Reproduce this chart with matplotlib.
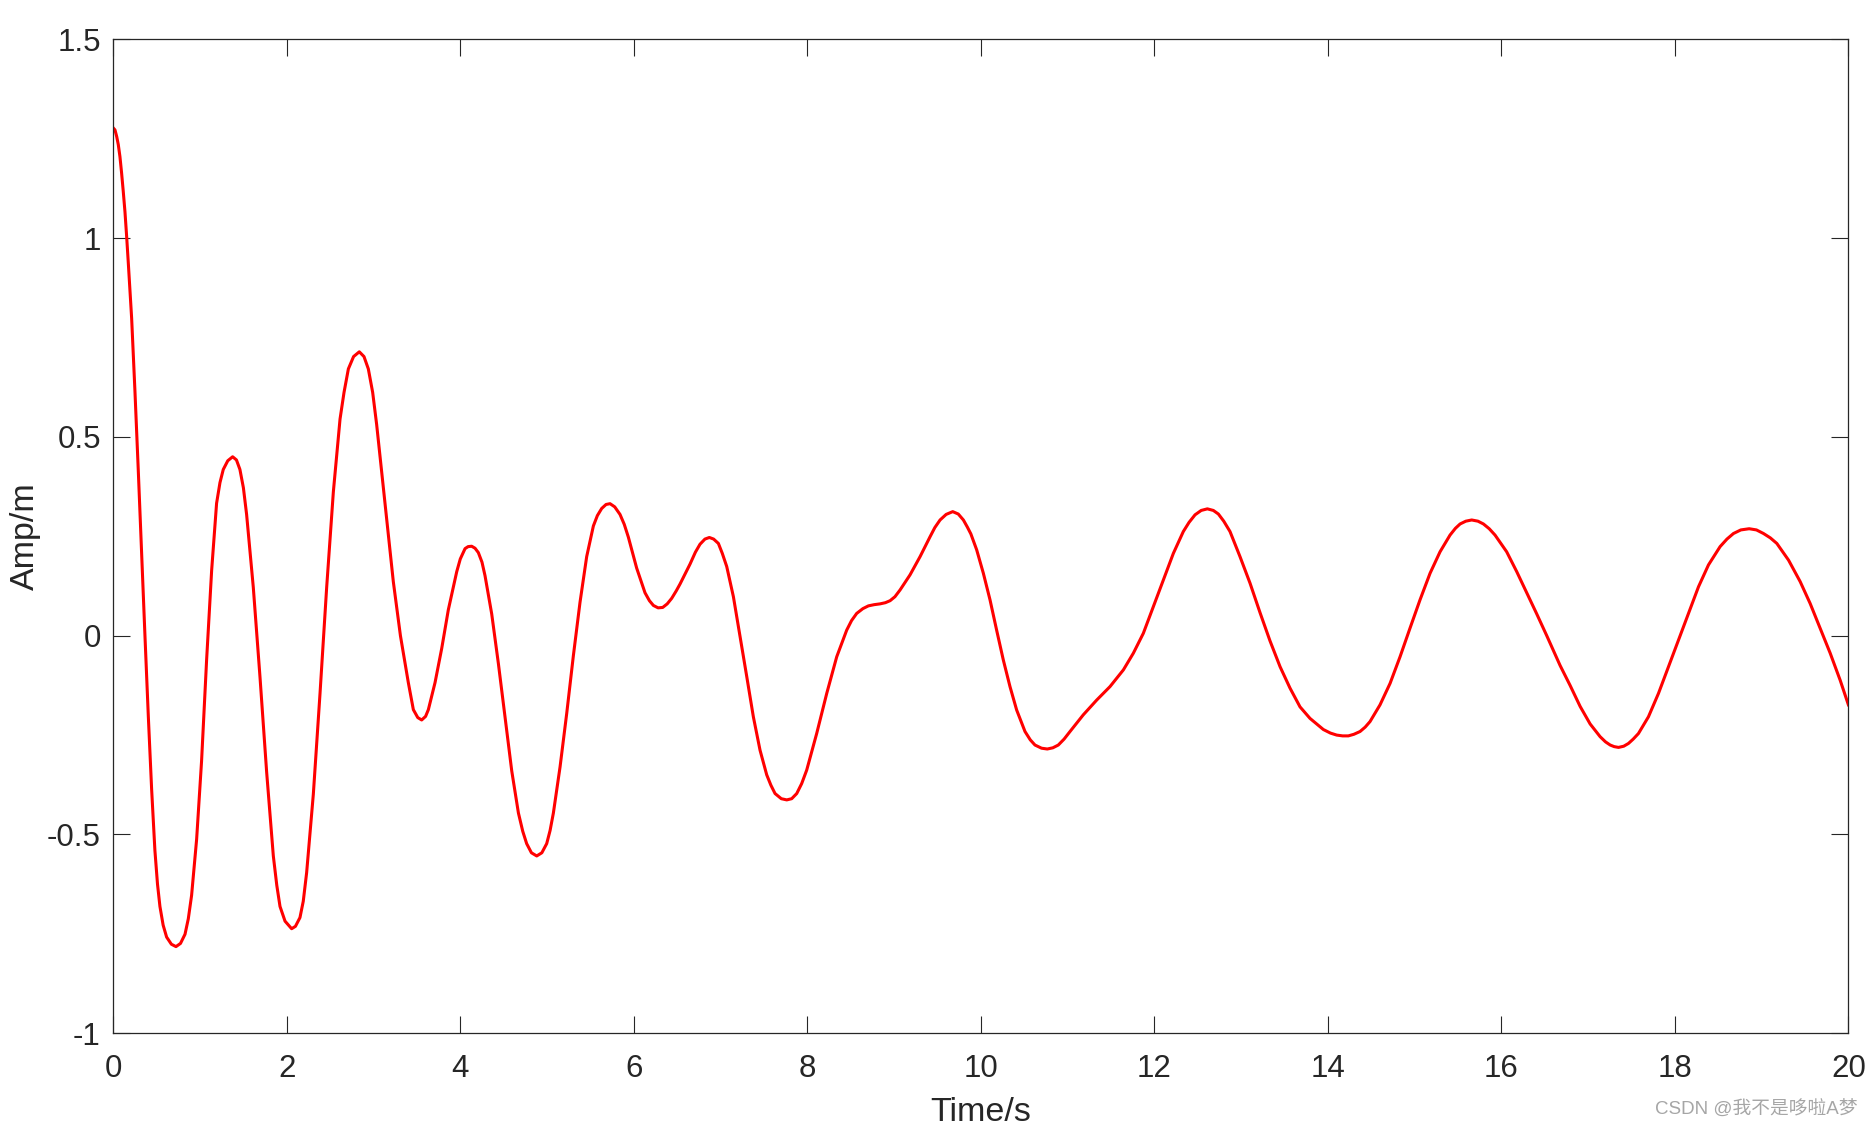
import matplotlib
matplotlib.use("Agg")
import matplotlib.pyplot as plt

# time (s) and amplitude (m)
time_s = [
    0.0, 0.02, 0.04, 0.058, 0.077, 0.096, 0.115, 0.135, 0.154, 0.173,
    0.212, 0.250, 0.288, 0.327, 0.365, 0.404, 0.442, 0.480, 0.510, 0.538,
    0.575, 0.615, 0.670, 0.723, 0.775, 0.827, 0.865, 0.903, 0.961, 1.018,
    1.076, 1.134, 1.191, 1.230, 1.268, 1.320, 1.376, 1.420, 1.460, 1.500,
    1.537, 1.614, 1.691, 1.768, 1.845, 1.885, 1.922, 1.980, 2.056, 2.100,
    2.152, 2.190, 2.229, 2.306, 2.383, 2.460, 2.537, 2.614, 2.660, 2.710,
    2.770, 2.836, 2.890, 2.940, 2.990, 3.036, 3.132, 3.228, 3.310, 3.401,
    3.459, 3.510, 3.555, 3.600, 3.632, 3.709, 3.786, 3.862, 3.959, 4.000,
    4.055, 4.090, 4.131, 4.170, 4.208, 4.250, 4.285, 4.362, 4.439, 4.516,
    4.593, 4.670, 4.720, 4.765, 4.820, 4.881, 4.940, 4.996, 5.035, 5.073,
    5.150, 5.227, 5.303, 5.380, 5.457, 5.534, 5.580, 5.630, 5.680, 5.726,
    5.780, 5.841, 5.890, 5.937, 6.033, 6.129, 6.180, 6.226, 6.280, 6.333,
    6.385, 6.437, 6.490, 6.533, 6.590, 6.648, 6.710, 6.763, 6.820, 6.871,
    6.920, 6.975, 7.020, 7.071, 7.148, 7.225, 7.302, 7.378, 7.455, 7.532,
    7.580, 7.628, 7.700, 7.763, 7.820, 7.878, 7.935, 7.993, 8.108, 8.224,
    8.339, 8.454, 8.510, 8.569, 8.640, 8.704, 8.770, 8.838, 8.900, 8.954,
    9.010, 9.069, 9.184, 9.300, 9.415, 9.470, 9.530, 9.600, 9.676, 9.740,
    9.799, 9.845, 9.885, 9.952, 10.029, 10.106, 10.182, 10.259, 10.336, 10.413,
    10.509, 10.570, 10.624, 10.700, 10.766, 10.830, 10.893, 10.960, 11.028, 11.181,
    11.335, 11.489, 11.643, 11.758, 11.873, 11.988, 12.104, 12.219, 12.334, 12.400,
    12.469, 12.540, 12.611, 12.680, 12.738, 12.800, 12.872, 12.987, 13.103, 13.218,
    13.333, 13.449, 13.564, 13.679, 13.794, 13.948, 14.030, 14.102, 14.170, 14.236,
    14.300, 14.371, 14.430, 14.486, 14.601, 14.717, 14.832, 14.947, 15.062, 15.178,
    15.293, 15.408, 15.470, 15.524, 15.590, 15.658, 15.730, 15.793, 15.860, 15.927,
    16.061, 16.177, 16.292, 16.407, 16.523, 16.677, 16.792, 16.908, 17.023, 17.138,
    17.200, 17.254, 17.300, 17.350, 17.410, 17.465, 17.520, 17.580, 17.695, 17.811,
    17.926, 18.041, 18.156, 18.272, 18.387, 18.521, 18.600, 18.675, 18.760, 18.856,
    18.940, 19.021, 19.100, 19.175, 19.310, 19.444, 19.559, 19.674, 19.790, 19.905,
    20.0,
]
amp_m = [
    1.277, 1.272, 1.255, 1.235, 1.205, 1.164, 1.118, 1.066, 1.005, 0.939,
    0.798, 0.615, 0.418, 0.207, 0.002, -0.202, -0.385, -0.540, -0.625, -0.681,
    -0.728, -0.758, -0.776, -0.782, -0.774, -0.751, -0.712, -0.653, -0.512, -0.315,
    -0.061, 0.164, 0.333, 0.385, 0.418, 0.440, 0.450, 0.442, 0.418, 0.372,
    0.305, 0.122, -0.103, -0.343, -0.554, -0.628, -0.681, -0.718, -0.737, -0.731,
    -0.709, -0.668, -0.596, -0.399, -0.146, 0.122, 0.362, 0.545, 0.612, 0.671,
    0.702, 0.714, 0.702, 0.671, 0.612, 0.531, 0.333, 0.136, 0.000, -0.118,
    -0.186, -0.206, -0.212, -0.203, -0.186, -0.118, -0.032, 0.065, 0.161, 0.193,
    0.219, 0.224, 0.225, 0.220, 0.209, 0.185, 0.151, 0.055, -0.070, -0.205,
    -0.340, -0.446, -0.492, -0.523, -0.546, -0.554, -0.546, -0.523, -0.490, -0.446,
    -0.330, -0.195, -0.051, 0.084, 0.199, 0.276, 0.302, 0.320, 0.330, 0.332,
    0.324, 0.305, 0.280, 0.248, 0.170, 0.108, 0.088, 0.076, 0.070, 0.071,
    0.080, 0.094, 0.113, 0.130, 0.155, 0.180, 0.210, 0.230, 0.243, 0.247,
    0.243, 0.232, 0.207, 0.174, 0.098, -0.002, -0.103, -0.204, -0.288, -0.350,
    -0.376, -0.397, -0.410, -0.413, -0.410, -0.397, -0.372, -0.338, -0.246, -0.145,
    -0.053, 0.014, 0.038, 0.056, 0.068, 0.075, 0.078, 0.080, 0.083, 0.088,
    0.098, 0.115, 0.153, 0.199, 0.249, 0.272, 0.291, 0.305, 0.312, 0.306,
    0.291, 0.273, 0.256, 0.216, 0.157, 0.090, 0.014, -0.061, -0.128, -0.187,
    -0.241, -0.262, -0.275, -0.283, -0.285, -0.282, -0.275, -0.260, -0.241, -0.199,
    -0.162, -0.128, -0.086, -0.044, 0.006, 0.073, 0.140, 0.207, 0.262, 0.285,
    0.304, 0.315, 0.319, 0.315, 0.306, 0.288, 0.262, 0.199, 0.132, 0.058,
    -0.013, -0.078, -0.132, -0.179, -0.208, -0.236, -0.245, -0.250, -0.252, -0.252,
    -0.248, -0.241, -0.230, -0.216, -0.174, -0.120, -0.053, 0.019, 0.090, 0.157,
    0.211, 0.253, 0.270, 0.281, 0.288, 0.291, 0.288, 0.281, 0.269, 0.253,
    0.211, 0.161, 0.108, 0.055, 0.000, -0.075, -0.125, -0.178, -0.222, -0.254,
    -0.267, -0.275, -0.279, -0.281, -0.278, -0.271, -0.260, -0.246, -0.204, -0.145,
    -0.078, -0.011, 0.056, 0.123, 0.178, 0.224, 0.243, 0.257, 0.266, 0.269,
    0.266, 0.257, 0.246, 0.232, 0.190, 0.136, 0.081, 0.019, -0.044, -0.112,
    -0.174,
]

x_ticks = [0, 2, 4, 6, 8, 10, 12, 14, 16, 18, 20]
x_tick_labels = ["0", "2", "4", "6", "8", "10", "12", "14", "16", "18", "20"]
y_ticks = [-1, -0.5, 0, 0.5, 1, 1.5]
y_tick_labels = ["-1", "-0.5", "0", "0.5", "1", "1.5"]

plt.rcParams['font.family'] = ['Liberation Sans', 'Noto Sans CJK SC', 'DejaVu Sans']

fig = plt.figure(figsize=(18.72, 11.32), dpi=100)
ax = fig.add_axes([0.0605, 0.0872, 0.9269, 0.8781])

ax.plot(time_s, amp_m, color='#ff0000', linewidth=2.2)

ax.set_xlim(0, 20)
ax.set_ylim(-1, 1.5)
ax.set_xticks(x_ticks)
ax.set_xticklabels(x_tick_labels)
ax.set_yticks(y_ticks)
ax.set_yticklabels(y_tick_labels)

edge = '#262626'
for sp in ax.spines.values():
    sp.set_color(edge)
    sp.set_linewidth(0.9)
ax.tick_params(direction='in', length=12, width=0.8, color=edge,
               top=True, right=True, labelsize=22.5, labelcolor=edge)
ax.tick_params(axis='x', pad=15)
ax.tick_params(axis='y', pad=9)

ax.set_xlabel("Time/s", fontsize=24.5, color=edge, labelpad=9.5)
ax.set_ylabel("Amp/m", fontsize=24.5, color=edge, labelpad=4)

# watermark
fig.text(0.9925, 0.0195, "CSDN @我不是哆啦A梦", ha='right', va='center',
         fontsize=13.5, color='#a6a6a6',
         family=['Liberation Sans', 'Noto Sans CJK SC', 'DejaVu Sans'])

fig.savefig("out.png", dpi=100)
